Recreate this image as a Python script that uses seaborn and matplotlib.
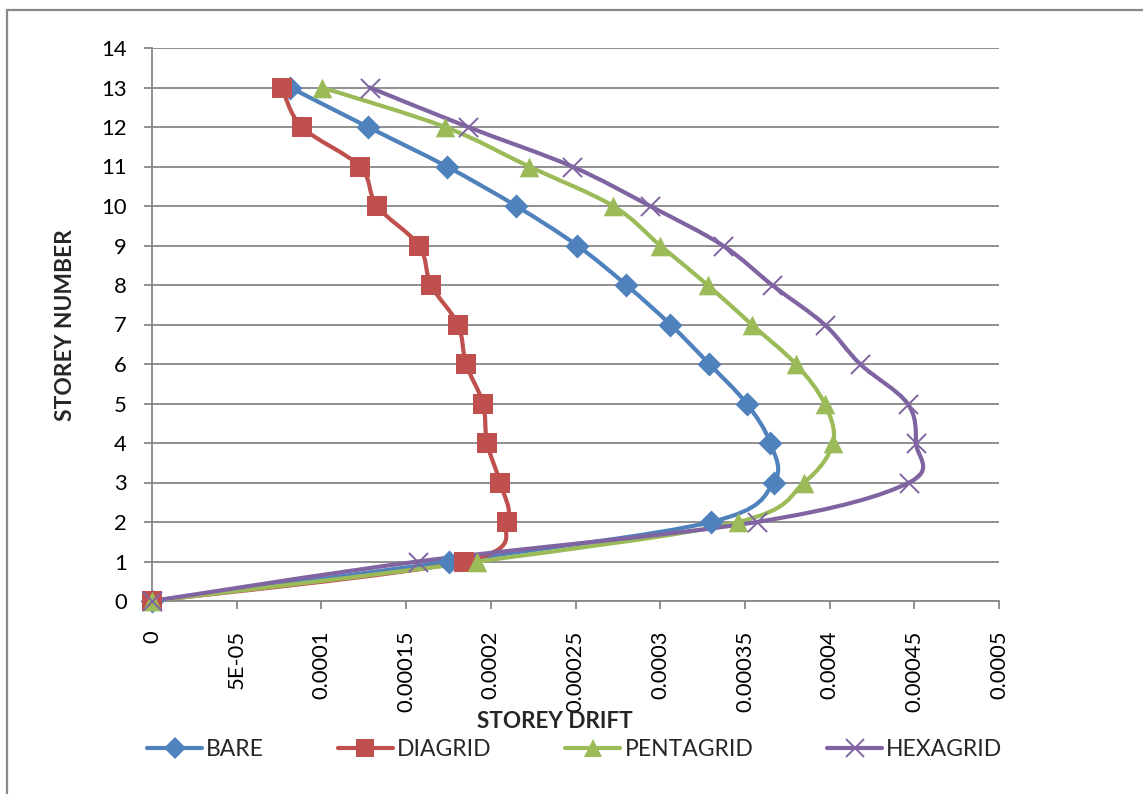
import numpy as np
import pandas as pd
import matplotlib
matplotlib.use("Agg")
import matplotlib.pyplot as plt
from matplotlib.path import Path
from matplotlib.patches import PathPatch, Rectangle
from matplotlib.lines import Line2D
import seaborn as sns

# Storey drift per storey for each structural system
storeys = list(range(14))
bare = [0, 0.0001755, 0.000330, 0.000367, 0.000365, 0.000351, 0.000329,
        0.000306, 0.000280, 0.000251, 0.000215, 0.0001740, 0.0001275, 0.0000815]
diagrid = [0, 0.0001840, 0.0002096, 0.0002054, 0.0001978, 0.0001954, 0.0001854,
           0.0001806, 0.0001647, 0.0001576, 0.0001328, 0.0001228, 0.0000885, 0.0000767]
pentagrid = [0, 0.0001920, 0.000346, 0.000385, 0.000402, 0.000397, 0.000380,
             0.000354, 0.000328, 0.000300, 0.0002722, 0.0002226, 0.000173, 0.0001004]
hexagrid = [0, 0.0001570, 0.000357, 0.000447, 0.000451, 0.000446, 0.000418,
            0.000397, 0.000366, 0.000337, 0.000294, 0.000248, 0.0001865, 0.0001285]

series_names = ["BARE", "DIAGRID", "PENTAGRID", "HEXAGRID"]
series_values = [bare, diagrid, pentagrid, hexagrid]
series_colors = ["#4F81BD", "#C0504D", "#9BBB59", "#8064A2"]
series_markers = ["D", "s", "^", "x"]

x_ticks = [0, 0.00005, 0.0001, 0.00015, 0.0002, 0.00025, 0.0003, 0.00035, 0.0004, 0.00045, 0.0005]
x_tick_labels = ["0", "5E-05", "0.0001", "0.00015", "0.0002", "0.00025", "0.0003",
                 "0.00035", "0.0004", "0.00045", "0.0005"]
y_ticks = list(range(15))

sns.set_theme(style="white")
plt.rcParams["font.family"] = ["Lato", "DejaVu Sans"]

W, H = 1143, 794
fig = plt.figure(figsize=(W / 100, H / 100), dpi=100)
ax = fig.add_axes([152 / W, 1 - 601 / H, (999 - 152) / W, (601 - 48) / H])

grid_col = "#878787"


def smooth_path(xs, ys):
    """Cardinal (Catmull-Rom style) Bezier path through the points."""
    pts = np.column_stack([xs, ys]).astype(float)
    n = len(pts)
    verts = [pts[0]]
    codes = [Path.MOVETO]
    for i in range(n - 1):
        p0 = pts[i - 1] if i > 0 else pts[i]
        p1 = pts[i]
        p2 = pts[i + 1]
        p3 = pts[i + 2] if i + 2 < n else pts[i + 1]
        verts += [p1 + (p2 - p0) / 6, p2 - (p3 - p1) / 6, p2]
        codes += [Path.CURVE4] * 3
    return Path(verts, codes)


ax.set_xlim(0, 0.0005)
ax.set_ylim(0, 14)

handles = []
for name, vals, col, mk in zip(series_names, series_values, series_colors, series_markers):
    df = pd.DataFrame({"drift": vals, "storey": storeys})
    patch = PathPatch(smooth_path(df["drift"], df["storey"]), fill=False,
                      edgecolor=col, lw=3.0, capstyle="round", joinstyle="round",
                      zorder=3)
    ax.add_patch(patch)
    if mk == "x":
        sns.scatterplot(data=df, x="drift", y="storey", marker="x", color=col,
                        s=190, linewidth=1.4, ax=ax, zorder=4, clip_on=False)
        handles.append(Line2D([], [], color=col, lw=3.0, marker="x", ms=13, mew=1.4))
    else:
        size = {"D": 150, "s": 190, "^": 200}[mk]
        sns.scatterplot(data=df, x="drift", y="storey", marker=mk, color=col,
                        s=size, linewidth=0, ax=ax, zorder=4, clip_on=False)
        ms = {"D": 11, "s": 12.5, "^": 13}[mk]
        handles.append(Line2D([], [], color=col, lw=3.0, marker=mk, ms=ms, mew=0))

ax.set_xticks(x_ticks)
ax.set_xticklabels(x_tick_labels, rotation=90, fontsize=15.8, color="black")
ax.set_yticks(y_ticks)
ax.set_yticklabels([str(v) for v in y_ticks], fontsize=15.8, color="black")
ax.tick_params(axis="x", direction="out", length=6, width=1.3, color=grid_col, pad=15,
               bottom=True)
ax.tick_params(axis="y", direction="out", length=6, width=1.3, color=grid_col, pad=12,
               left=True)

ax.yaxis.grid(True, color=grid_col, lw=1.3)
ax.xaxis.grid(False)
ax.set_axisbelow(True)
for side in ["top", "right"]:
    ax.spines[side].set_visible(False)
for side in ["left", "bottom"]:
    ax.spines[side].set_color(grid_col)
    ax.spines[side].set_linewidth(1.3)
ax.set_xlabel("")
ax.set_ylabel("")

fig.text(555 / W, 1 - 721 / H, "STOREY DRIFT", ha="center", va="center",
         fontsize=16.2, fontweight="bold")
fig.text(65 / W, 1 - 325 / H, "STOREY NUMBER", ha="center", va="center",
         rotation=90, fontsize=16.4, fontweight="bold")

fig.legend(handles=handles, labels=series_names, loc="center left",
           bbox_to_anchor=(147 / W, 1 - 750 / H), ncol=4, frameon=False,
           fontsize=16.5, handlelength=2.4, handletextpad=0.18, columnspacing=3.22,
           borderaxespad=0, borderpad=0)

# outer chart frame
fig.patches.append(Rectangle((7 / W, -0.05), 1.2, 1 - 10 / H + 0.05,
                             transform=fig.transFigure, fill=False,
                             edgecolor="#888888", lw=1.6, zorder=0))

fig.savefig("out.png", dpi=100)
